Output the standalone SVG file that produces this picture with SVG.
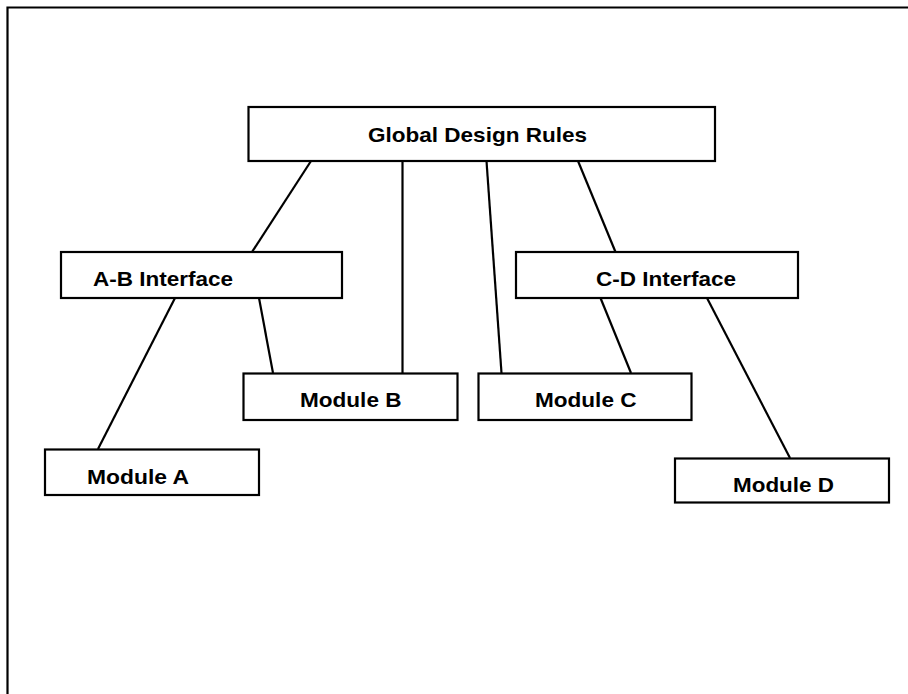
<svg xmlns="http://www.w3.org/2000/svg" width="908" height="694" viewBox="0 0 908 694">
  <style>
    .box { fill: #ffffff; stroke: #000000; stroke-width: 2.2; }
    .link { stroke: #000000; stroke-width: 2.2; fill: none; }
    .frame { stroke: #000000; stroke-width: 2.2; fill: none; }
    .label { font-family: "Liberation Sans", Arial, sans-serif; font-weight: bold; font-size: 21px; fill: #000000; }
  </style>
  <rect width="908" height="694" fill="#ffffff"/>
  <!-- page frame, open to the right and bottom -->
  <path class="frame" d="M7.5 700 V7.5 H912"/>

  <g id="connectors">
    <line class="link" x1="311" y1="161" x2="252" y2="252"/>
    <line class="link" x1="402.5" y1="161" x2="402.5" y2="373"/>
    <line class="link" x1="486.5" y1="161" x2="501.5" y2="373"/>
    <line class="link" x1="578" y1="161" x2="615.5" y2="252"/>
    <line class="link" x1="175" y1="298" x2="98" y2="449"/>
    <line class="link" x1="259" y1="298" x2="273" y2="373"/>
    <line class="link" x1="600.5" y1="298" x2="631" y2="373"/>
    <line class="link" x1="707" y1="298" x2="790" y2="458"/>
  </g>

  <g id="global-design-rules">
    <rect class="box" x="248.5" y="107" width="466.5" height="54"/>
    <text class="label" x="368" y="142" textLength="219" lengthAdjust="spacingAndGlyphs">Global Design Rules</text>
  </g>
  <g id="ab-interface">
    <rect class="box" x="61" y="252" width="281" height="46"/>
    <text class="label" x="93" y="285.5" textLength="140" lengthAdjust="spacingAndGlyphs">A-B Interface</text>
  </g>
  <g id="cd-interface">
    <rect class="box" x="516" y="252" width="282" height="46"/>
    <text class="label" x="596" y="285.5" textLength="140" lengthAdjust="spacingAndGlyphs">C-D Interface</text>
  </g>
  <g id="module-b">
    <rect class="box" x="243.5" y="373.5" width="214" height="46.5"/>
    <text class="label" x="300" y="406.5" textLength="101.5" lengthAdjust="spacingAndGlyphs">Module B</text>
  </g>
  <g id="module-c">
    <rect class="box" x="478.5" y="373.5" width="213" height="46.5"/>
    <text class="label" x="535" y="406.5" textLength="101.5" lengthAdjust="spacingAndGlyphs">Module C</text>
  </g>
  <g id="module-a">
    <rect class="box" x="45" y="449.5" width="214" height="45.5"/>
    <text class="label" x="87" y="484" textLength="102" lengthAdjust="spacingAndGlyphs">Module A</text>
  </g>
  <g id="module-d">
    <rect class="box" x="675" y="458.5" width="214" height="44"/>
    <text class="label" x="733" y="491.5" textLength="101" lengthAdjust="spacingAndGlyphs">Module D</text>
  </g>
</svg>
